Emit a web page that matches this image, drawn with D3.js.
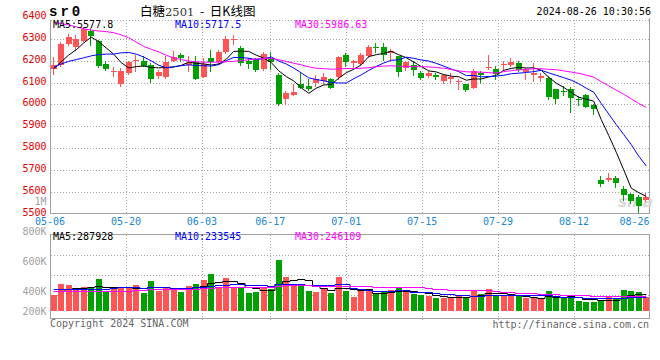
<!DOCTYPE html>
<html><head><meta charset="utf-8">
<script src="https://cdn.jsdelivr.net/npm/d3@7"></script>
<style>body{margin:0;background:#fff}svg{display:block}</style>
</head><body><svg id="c" width="660" height="360"></svg>
<script>
// ---------------- data ----------------
const dates = ["05-06","05-07","05-08","05-09","05-10","05-13","05-14","05-15","05-16","05-17",
"05-20","05-21","05-22","05-23","05-24","05-27","05-28","05-29","05-30","05-31",
"06-03","06-04","06-05","06-06","06-07","06-11","06-12","06-13","06-14",
"06-17","06-18","06-19","06-20","06-21","06-24","06-25","06-26","06-27","06-28",
"07-01","07-02","07-03","07-04","07-05","07-08","07-09","07-10","07-11","07-12",
"07-15","07-16","07-17","07-18","07-19","07-22","07-23","07-24","07-25","07-26",
"07-29","07-30","07-31","08-01","08-02","08-05","08-06","08-07","08-08","08-09",
"08-12","08-13","08-14","08-15","08-16","08-19","08-20","08-21","08-22","08-23","08-26"];
const open  = [6160,6179,6276,6262,6292,6336,6290,6183,6146,6094, 6144,6200,6197,6178,6131,6124,6200,6227,6180,6192,
               6127,6210,6192,6240,6293,6258,6200,6205,6163,6214, 6133,6023,6045,6091,6083,6099,6109,6118,6124,6227,
               6191,6186,6220,6262,6261,6235,6220,6167,6179,6144, 6129,6136,6106,6114,6102,6091,6076,6144,6167,6164,
               6180,6182,6189,6149,6133,6121,6121,6068,6062,6068, 6024,6042,5997,5652,5653,5664,5611,5588,5577,5562];
const high  = [6215,6285,6321,6316,6356,6348,6295,6200,6170,6167, 6197,6227,6220,6189,6159,6220,6242,6235,6220,6220,
               6212,6250,6250,6311,6318,6265,6212,6212,6239,6239, 6144,6061,6092,6144,6114,6136,6144,6121,6220,6235,
               6205,6235,6273,6280,6280,6255,6220,6200,6197,6152, 6152,6144,6139,6144,6114,6094,6164,6152,6227,6174,
               6200,6212,6197,6167,6189,6144,6129,6068,6083,6079, 6038,6048,6003,5674,5686,5674,5626,5595,5583,5592];
const low   = [6140,6174,6272,6250,6288,6273,6170,6158,6129,6086, 6141,6152,6174,6103,6121,6120,6198,6200,6152,6115,
               6124,6152,6185,6237,6276,6182,6167,6152,6158,6164, 5997,6000,6041,6076,6064,6086,6091,6073,6118,6174,
               6170,6182,6215,6239,6205,6197,6129,6159,6133,6114, 6124,6114,6099,6099,6068,6061,6073,6103,6164,6114,
               6155,6174,6152,6114,6109,6106,6023,6008,6042,5965, 5997,5988,5955,5626,5648,5623,5561,5550,5508,5558];
const close = [6180,6278,6308,6297,6344,6312,6174,6163,6153,6152, 6192,6204,6177,6118,6146,6196,6219,6214,6191,6118,
               6184,6192,6240,6298,6298,6190,6185,6155,6232,6195, 6000,6053,6056,6076,6068,6118,6124,6073,6215,6194,
               6197,6227,6261,6258,6224,6245,6147,6194,6159,6121, 6144,6124,6133,6124,6106,6065,6152,6133,6171,6141,
               6183,6194,6159,6155,6144,6129,6033,6023,6059,6027, 6021,5988,5977,5636,5664,5638,5583,5558,5535,5577];
const volume = [267,450,433,350,400,395,533,333,362,400, 400,433,300,500,333,400,383,317,417,450,
                517,617,400,550,383,383,300,317,400,367, 850,567,417,450,333,317,367,300,567,333,
                233,333,333,283,317,350,383,317,283,267, 242,210,225,210,258,225,340,290,372,275,
                242,242,242,210,210,210,340,210,210,275, 170,155,155,185,230,200,350,333,317,240].map(v => v * 1000);
// moving-average values for days whose window starts before 05-06
const ma5Head  = [6163,6195,6226,6250];
const ma10Head = [6170,6185,6197,6205,6213,6222,6228,6230,6230];
const ma30Head = [6375,6370,6363,6355,6346,6340,6336,6333,6328,6318,6305,6285,6265,6252,6240,
                  6225,6213,6205,6198,6195,6193,6193,6194,6195,6197,6200,6204,6208,6211];
const vma5Head  = [335000,340000,365000,385000];
const vma10Head = [360000,360000,362000,362000,364000,366000,370000,375000,385000];
const vma30Head = [333000,333000,334000,334000,335000,335000,336000,336000,337000,338000,340000,
                   350000,358000,364000,368000,370000,372000,373000,374000,375000,378000,
                   390000,396000,400000,402000,403000,404000,404000,404000];
const priceTicks = [6400,6300,6200,6100,6000,5900,5800,5700,5600,5500];
const dateTicks = ["05-06","05-20","06-03","06-17","07-01","07-15","07-29","08-12","08-26"];
const volTicks = [1000000,800000,600000,400000,200000];
const volTickLabels = ["1M","800K","600K","400K","200K"];
const maNames = ["MA5","MA10","MA30"];
const maLegendPrice = ["5577.8","5717.5","5986.63"];
const maLegendVol = ["287928","233545","246109"];
const maColors = ["#000000","#0000ff","#ff00ff"];

// ---------------- layout ----------------
const L = 50, R = 650, T = 20, B = 213, VT = 234, VB = 318, VBASE = 311;
const RED = "#ff5555", GREEN = "#00a000", GRID = "#a8a8a8", FRAME = "#a0a0a0";
const MONO = "'DejaVu Sans Mono', monospace";

const svg = d3.select("#c");
svg.append("rect").attr("width",660).attr("height",360).attr("fill","#fff");

const xBand = d3.scaleBand().domain(dates).range([L, R]);
const xGrid = d3.scalePoint().domain(dates).range([L, R]);
const y = d3.scaleLinear().domain([5500, 6400]).range([213.5, 17]);
const yVol = d3.scaleLinear().domain([0, 1000000]).range([VBASE, VBASE - 60]);
const yVolLabel = d3.scaleLinear().domain([400000, 1000000]).range([291, 201]);
const cx = d => xBand(d) + xBand.bandwidth() / 2;
const crisp = v => Math.round(v) + 0.5;

function movingAvg(arr, n, head) {
  return arr.map((v, i) => i < n - 1 ? head[i] : d3.mean(arr.slice(i - n + 1, i + 1)));
}
const maPrice = [movingAvg(close,5,ma5Head), movingAvg(close,10,ma10Head), movingAvg(close,30,ma30Head)];
const maVol = [movingAvg(volume,5,vma5Head), movingAvg(volume,10,vma10Head), movingAvg(volume,30,vma30Head)];

// ---------------- grids ----------------
const g = svg.append("g");
priceTicks.filter(p => p < 6400 && p > 5500).forEach(p => {
  g.append("line").attr("x1",L+1).attr("x2",R).attr("y1",crisp(y(p))).attr("y2",crisp(y(p)))
   .attr("stroke",GRID).attr("stroke-dasharray","1,2");
});
g.append("line").attr("x1",L+1).attr("x2",R).attr("y1",T+0.5).attr("y2",T+0.5)
 .attr("stroke",GRID).attr("stroke-dasharray","1,2");
dateTicks.slice(1, -1).forEach(d => {
  const x = crisp(xGrid(d));
  g.append("line").attr("x1",x).attr("x2",x).attr("y1",T).attr("y2",B)
   .attr("stroke",GRID).attr("stroke-dasharray","1,2");
  g.append("line").attr("x1",x).attr("x2",x).attr("y1",VT+1).attr("y2",VB+4)
   .attr("stroke",GRID).attr("stroke-dasharray","1,2");
});
[0.255, 0.493, 0.731].forEach(f => {
  const yy = crisp(VT + (VB - VT) * f);
  g.append("line").attr("x1",L+1).attr("x2",R-1).attr("y1",yy).attr("y2",yy)
   .attr("stroke",GRID).attr("stroke-dasharray","1,2");
});

// frames
g.append("path").attr("d",`M${L+0.5},${T}V${B+0.5}H${R}M${R-0.5},${T-2}V${B+0.5}`)
 .attr("stroke",FRAME).attr("fill","none");
g.append("rect").attr("x",L+0.5).attr("y",VT+0.5).attr("width",R-L-1).attr("height",VB-VT)
 .attr("stroke",FRAME).attr("fill","none");

// ---------------- watermark ----------------
svg.append("text").attr("x",618).attr("y",207).text("sina")
 .attr("font-family","'DejaVu Sans', sans-serif").attr("font-style","italic").attr("font-weight","bold")
 .attr("font-size",15).attr("fill","#d8d8d8");

// ---------------- candles ----------------
const cg = svg.append("g");
dates.forEach((d, i) => {
  const up = close[i] >= open[i];
  const col = up ? RED : GREEN;
  const left = Math.round(cx(d) - 3);
  const wx = left + 2.5;
  cg.append("line").attr("x1",wx).attr("x2",wx).attr("y1",Math.round(y(high[i]))).attr("y2",Math.round(y(low[i]))+1)
    .attr("stroke",col);
  const t = Math.round(y(Math.max(open[i], close[i])));
  const b = Math.round(y(Math.min(open[i], close[i])));
  cg.append("rect").attr("x",left).attr("y",t).attr("width",6).attr("height",Math.max(1,b-t)).attr("fill",col);
  // volume bar
  const vt = Math.round(yVol(volume[i]));
  cg.append("rect").attr("x",left).attr("y",vt).attr("width",6).attr("height",VBASE - vt).attr("fill",col);
});

// ---------------- MA lines ----------------
svg.append("clipPath").attr("id","mainclip").append("rect").attr("x",L+1).attr("y",T).attr("width",R-L-2).attr("height",B-T);
const lineP = d3.line().x((v,i) => cx(dates[i])).y(v => y(v));
maPrice.forEach((arr, k) => {
  svg.append("path").attr("d", lineP(arr)).attr("fill","none").attr("stroke",maColors[k])
    .attr("stroke-width",1).attr("clip-path","url(#mainclip)");
});
const lineV = d3.line().curve(d3.curveStep).x((v,i) => cx(dates[i])).y(v => Math.round(yVol(v)) + 0.5);
maVol.forEach((arr, k) => {
  svg.append("path").attr("d", lineV(arr)).attr("fill","none").attr("stroke",maColors[k]).attr("stroke-width",1);
});

// ---------------- texts ----------------
const tx = svg.append("g").attr("font-family", MONO);
priceTicks.forEach(p => {
  tx.append("text").attr("x",46.5).attr("y",y(p) - 1.5).attr("text-anchor","end")
    .attr("dominant-baseline","central").attr("font-size",10).attr("fill","#e00000").text(p);
});
volTicks.forEach((v, k) => {
  tx.append("text").attr("x",46.5).attr("y",Math.min(yVolLabel(v), VBASE)).attr("text-anchor","end")
    .attr("dominant-baseline","central").attr("font-size",10).attr("fill","#a0a0a0").text(volTickLabels[k]);
});
dateTicks.forEach(d => {
  const x = xGrid(d);
  const last = x + 15 > R;
  tx.append("text").attr("x", last ? R - 0.5 : x).attr("y",221.5).attr("text-anchor", last ? "end" : "middle")
    .attr("dominant-baseline","central").attr("font-size",10).attr("fill","#1a86d6").text(d);
});
const legX = [53, 175, 295];
maNames.forEach((n, k) => {
  tx.append("text").attr("x",legX[k]).attr("y",24.5).attr("dominant-baseline","central")
    .attr("font-size",10).attr("fill",maColors[k]).text(n + ":" + maLegendPrice[k]);
  tx.append("text").attr("x",legX[k]).attr("y",236.5).attr("dominant-baseline","central")
    .attr("font-size",10).attr("fill",maColors[k]).text(n + ":" + maLegendVol[k]);
});
// header
svg.append("text").attr("x",49).attr("y",11.5).attr("dominant-baseline","central")
  .attr("font-family","'Liberation Mono', monospace").attr("font-weight","bold").attr("font-size",14)
  .attr("letter-spacing",3).attr("fill","#000").text("sr0");
const title = svg.append("text").attr("x",140).attr("y",15.5)
  .attr("font-family","'Noto Sans CJK SC', sans-serif").attr("font-size",12.5).attr("fill","#000");
title.append("tspan").text("白糖");
title.append("tspan").attr("font-family","'DejaVu Serif', serif").attr("font-size",11.5).attr("fill","#333").text("2501");
title.append("tspan").attr("xml:space","preserve").text(" \u00a0-\u00a0 日K线图");
tx.append("text").attr("x",651).attr("y",11.5).attr("text-anchor","end").attr("dominant-baseline","central")
  .attr("font-size",10).attr("fill","#000").text("2024-08-26 10:30:56");
tx.append("text").attr("x",50).attr("y",323.5).attr("dominant-baseline","central")
  .attr("font-size",10).attr("fill","#666").text("Copyright 2024 SINA.COM");
tx.append("text").attr("x",649).attr("y",324).attr("text-anchor","end").attr("dominant-baseline","central")
  .attr("font-size",10).attr("fill","#666").text("http://finance.sina.com.cn");
</script></body></html>
